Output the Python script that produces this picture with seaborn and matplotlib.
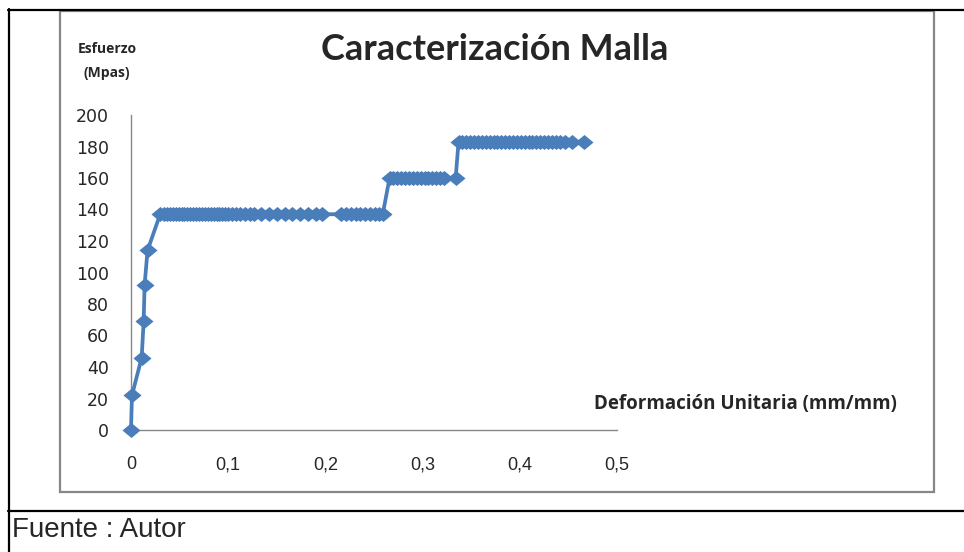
import matplotlib
matplotlib.use("Agg")
import matplotlib.pyplot as plt
from matplotlib.lines import Line2D
from matplotlib.patches import Rectangle
import seaborn as sns
import pandas as pd

# Deformación unitaria (mm/mm) y esfuerzo (MPa)
deformacion = [
    0.0, 0.001, 0.011, 0.013, 0.014, 0.017, 0.030,
    0.034, 0.037, 0.040, 0.043, 0.046, 0.049, 0.052, 0.055, 0.058,
    0.061, 0.064, 0.067, 0.070, 0.073, 0.076, 0.079, 0.082, 0.085,
    0.088, 0.091, 0.094, 0.097, 0.100, 0.104, 0.108, 0.112, 0.117,
    0.122, 0.127, 0.134, 0.142, 0.150, 0.158, 0.166, 0.174, 0.182,
    0.190, 0.197,
    0.216, 0.221, 0.226, 0.231, 0.236, 0.241, 0.246, 0.251, 0.255, 0.259,
    0.266, 0.270, 0.274, 0.278, 0.282, 0.286, 0.290, 0.294, 0.298,
    0.302, 0.306, 0.310, 0.314, 0.318, 0.322, 0.334,
    0.337, 0.341, 0.345, 0.349, 0.353, 0.357, 0.361, 0.365, 0.369,
    0.373, 0.377, 0.381, 0.385, 0.389, 0.393, 0.397, 0.401, 0.405,
    0.409, 0.413, 0.417, 0.421, 0.425, 0.429, 0.433, 0.437, 0.441,
    0.446, 0.454, 0.466,
]
esfuerzo = (
    [0, 22, 46, 69, 92, 114, 137]
    + [137] * 38
    + [137] * 10
    + [160] * 16
    + [183] * 30
)

x_ticks = [0, 0.1, 0.2, 0.3, 0.4, 0.5]
x_tick_labels = ["0", "0,1", "0,2", "0,3", "0,4", "0,5"]
y_ticks = [0, 20, 40, 60, 80, 100, 120, 140, 160, 180, 200]

df = pd.DataFrame({"deformacion": deformacion, "esfuerzo": esfuerzo})

sns.set_style("white")
plt.rcParams["font.family"] = ["DejaVu Sans"]

W, H = 964, 552
fig = plt.figure(figsize=(W / 100, H / 100), dpi=100)
ax = fig.add_axes([131 / W, 1 - 430 / H, (617 - 131) / W, (430 - 115) / H])

# rombo un poco más ancho que alto, como en Excel
rombo = [(-1.2, 0), (0, 1), (1.2, 0), (0, -1), (-1.2, 0)]
sns.lineplot(data=df, x="deformacion", y="esfuerzo", ax=ax, sort=False,
             color="#4a7ebb", linewidth=2.7, marker=rombo, markersize=13,
             markeredgewidth=0, zorder=3, clip_on=False)

ax.set_xlim(0, 0.5)
ax.set_ylim(0, 200)
ax.set_xticks(x_ticks)
ax.set_xticklabels(x_tick_labels)
ax.set_yticks(y_ticks)
ax.set_xlabel("")
ax.set_ylabel("")
for s in ["top", "right"]:
    ax.spines[s].set_visible(False)
for s in ["left", "bottom"]:
    ax.spines[s].set_color("#888888")
    ax.spines[s].set_linewidth(1.0)
ax.tick_params(axis="both", direction="out", length=6, width=1, color="#888888")
ax.tick_params(axis="y", pad=10, labelsize=12.5)
ax.tick_params(axis="x", pad=13, labelsize=13)
for lab in ax.get_xticklabels():
    lab.set_family(["Liberation Sans Narrow", "Liberation Sans", "DejaVu Sans"])

# textos
fig.text(495 / W, 1 - 50 / H, "Caracterización Malla", ha="center", va="center",
         fontsize=26, fontweight="bold", family=["Lato", "DejaVu Sans"])
fig.text(107 / W, 1 - 49 / H, "Esfuerzo", ha="center", va="center",
         fontsize=10, fontweight="bold", family=["Open Sans", "DejaVu Sans"])
fig.text(107 / W, 1 - 73 / H, "(Mpas)", ha="center", va="center",
         fontsize=10, fontweight="bold", family=["Open Sans", "DejaVu Sans"])
fig.text(745 / W, 1 - 404 / H, "Deformación Unitaria (mm/mm)", ha="center",
         va="center", fontsize=13.5, fontweight="bold",
         family=["Open Sans", "DejaVu Sans"])
fig.text(12 / W, 1 - 530 / H, "Fuente : Autor", ha="left", va="center",
         fontsize=20, family=["Liberation Sans", "DejaVu Sans"])

# marco gris del gráfico
fig.add_artist(Rectangle((60 / W, 1 - 492 / H), (934 - 60) / W, (492 - 11) / H,
                         transform=fig.transFigure, fill=False,
                         edgecolor="#868686", linewidth=1.6))
# líneas negras de la tabla
fig.add_artist(Line2D([8 / W, 1], [1 - 9.5 / H] * 2, color="black", linewidth=1.6))
fig.add_artist(Line2D([8.5 / W] * 2, [1 - 9 / H, 0], color="black", linewidth=1.6))
fig.add_artist(Line2D([8 / W, 1], [1 - 511 / H] * 2, color="black", linewidth=1.6))

fig.savefig("out.png", dpi=100)
